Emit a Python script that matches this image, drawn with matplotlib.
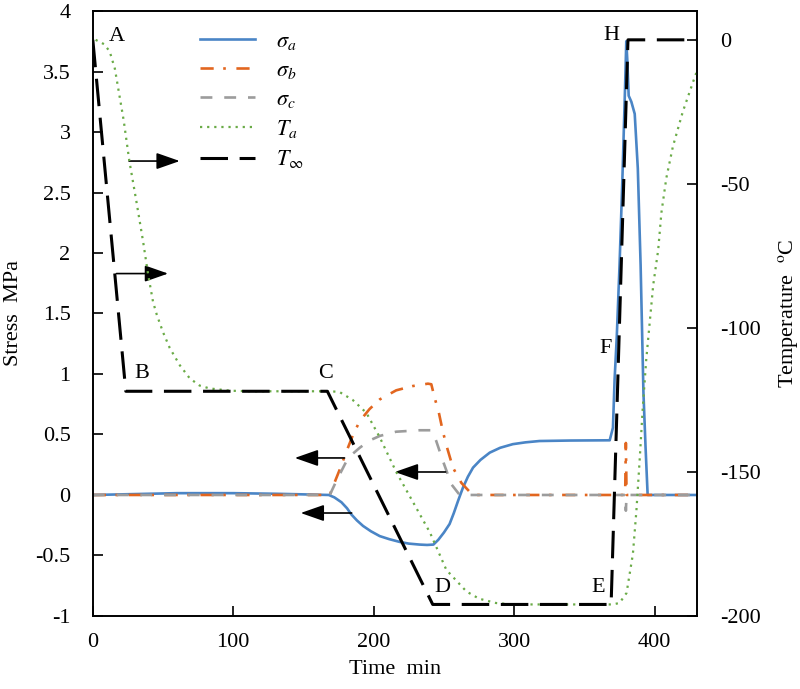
import matplotlib
matplotlib.use('Agg')
import matplotlib.pyplot as plt

plt.rcParams['font.family'] = ['Liberation Serif', 'DejaVu Serif']
plt.rcParams['mathtext.fontset'] = 'stix'
plt.rcParams['axes.unicode_minus'] = False

# stress at point a (MPa)
t_sa = [0, 20, 40, 60, 100, 130, 150, 168, 172, 177, 181, 184, 188, 192.4, 198, 204.3, 211,
        218.5, 225, 232.7, 238, 242.5, 246, 250, 254, 257, 260, 263.5, 267, 270.7, 276, 282.6,
        290, 299, 308, 318, 340, 368, 370.3, 371.5, 373, 375, 377, 379, 379.8, 380.5, 381.5,
        383.4, 385.8, 388, 390, 392, 393.5, 395, 430]
sa = [0, 0.005, 0.01, 0.015, 0.015, 0.01, 0.005, 0, -0.02, -0.06, -0.11, -0.16, -0.21, -0.256,
      -0.3, -0.34, -0.365, -0.388, -0.402, -0.41, -0.413, -0.41, -0.37, -0.31, -0.24, -0.15,
      -0.05, 0.06, 0.15, 0.226, 0.29, 0.35, 0.39, 0.42, 0.435, 0.446, 0.45, 0.452, 0.556, 0.96,
      1.3, 1.9, 2.6, 3.4, 3.75, 3.6, 3.3, 3.25, 3.15, 2.7, 1.9, 0.85, 0.4, 0, 0]

# stress at point b
t_sb = [0, 168.7, 172, 175.8, 180.6, 185, 190, 197, 204.3, 216, 227.6, 238.6, 241, 243.4, 246,
        249.3, 252.5, 256.4, 262.4, 268, 272, 379, 379.5, 380, 430]
sb = [0, 0, 0.1, 0.21, 0.36, 0.49, 0.61, 0.71, 0.79, 0.865, 0.9, 0.92, 0.915, 0.8, 0.7, 0.52,
      0.38, 0.226, 0.1, 0.03, 0, 0, 0.43, 0, 0]

# stress at point c
t_sc = [0, 168.7, 173.4, 180.6, 185, 190, 197, 204.3, 216, 232.7, 241, 242.5, 244.5, 249.3,
        255.3, 261.2, 379, 379.5, 380, 430]
sc = [0, 0, 0.116, 0.28, 0.34, 0.39, 0.45, 0.488, 0.523, 0.535, 0.535, 0.5, 0.446, 0.28,
      0.088, 0, 0, -0.13, 0, 0]

# temperature at point a (C)
t_ta = [2, 8, 12, 15.7, 19.2, 22, 26, 31, 35.8, 39.4, 42.9, 45.6, 50, 54.8, 62, 69, 76, 83,
        97.5, 112, 170, 175.8, 185, 194.8, 204.3, 216, 228, 240, 251.7, 266, 275, 287, 299,
        370, 375, 380, 384.5, 387, 389.3, 391.5, 394, 399, 402.5, 404.8, 408.3, 413, 420,
        428.5, 430]
ta = [0, -1.5, -4, -10, -20, -28, -42, -56, -70, -81.5, -91, -95.5, -101.5, -107, -113, -117.5,
      -120, -121, -121.8, -122, -122, -122.3, -125, -129.5, -138, -150, -160.5, -171, -184,
      -191.5, -194, -195.5, -196, -196, -195.5, -192, -178.5, -163.5, -146, -128, -111, -85,
      -73, -60, -48, -37, -25, -13, -11]

# ambient temperature (C)
t_tinf = [0, 23.5, 167, 242, 369, 381, 430]
tinf = [0, -122, -122, -196, -196, 0, 0]

# point labels (time, temperature)
pt_names = ['A', 'B', 'C', 'D', 'E', 'F', 'H']
pt_t = [17, 35, 166, 249, 360, 365, 369]
pt_T = [1, -116, -116, -190, -190, -107, 1.5]

# arrows (start time, tip time, stress level)
arrows = [(25.8, 61.9, 2.76), (16.9, 53.6, 1.83), (179.2, 143.8, 0.306),
          (184.3, 148.0, -0.149), (251.2, 215.0, 0.19)]

fig = plt.figure(figsize=(8, 6.89), dpi=100)
ax = fig.add_axes([0.116, 0.106, 0.755, 0.878])
ax2 = ax.twinx()

c_a = '#4a85c6'
c_b = '#e2661f'
c_c = '#9c9c9c'
c_t = '#6aab47'

l1, = ax.plot(t_sa, sa, color=c_a, lw=1.9, label=r'$\sigma_a$')
l2, = ax.plot(t_sb, sb, color=c_b, lw=1.9, dashes=(5, 3.6, 1, 4), label=r'$\sigma_b$')
l3, = ax.plot(t_sc, sc, color=c_c, lw=1.9, dashes=(4.5, 4.5), label=r'$\sigma_c$')
l4, = ax2.plot(t_ta, ta, color=c_t, lw=1.6, dashes=(1, 2.2), label=r'$T_a$')
l5, = ax2.plot(t_tinf, tinf, color='black', lw=2.2, dashes=(9, 3.8), label=r'$T_\infty$')

for name, x, y in zip(pt_names, pt_t, pt_T):
    ax2.text(x, y, name, fontsize=16, ha='center', va='center')

for x0, x1, y in arrows:
    ax.annotate('', xy=(x1, y), xytext=(x0, y),
                arrowprops=dict(arrowstyle='-|>,head_length=0.8,head_width=0.28',
                                mutation_scale=18, color='black', lw=1.2,
                                shrinkA=0, shrinkB=0))

ax.set_xlim(0, 430)
ax.set_ylim(-1, 4)
ax2.set_ylim(-200, 10)
ax.set_xticks([0, 100, 200, 300, 400])
ax.set_yticks([-1, -0.5, 0, 0.5, 1, 1.5, 2, 2.5, 3, 3.5, 4])
ax.set_yticklabels(['-1', '-0.5', '0', '0.5', '1', '1.5', '2', '2.5', '3', '3.5', '4'])
ax2.set_yticks([-200, -150, -100, -50, 0])

ax.tick_params(axis='both', direction='in', length=7, width=1.2, labelsize=16)
ax.tick_params(axis='y', pad=16)
ax.tick_params(axis='x', pad=12)
ax2.tick_params(axis='y', direction='in', length=7, width=1.2, labelsize=16, pad=17)
for a in (ax, ax2):
    for s in a.spines.values():
        s.set_linewidth(1.2)

ax.set_xlabel('Time  min', fontsize=16)
ax.set_ylabel('Stress  MPa', fontsize=16)
ax2.set_ylabel(r'Temperature  $^{\mathrm{o}}$C', fontsize=16)
ax.xaxis.set_label_coords(0.5, -0.072)
ax.yaxis.set_label_coords(-0.115, 0.5)
ax2.yaxis.set_label_coords(1.131, 0.5)

ax2.legend(handles=[l1, l2, l3, l4, l5], loc='upper left', bbox_to_anchor=(0.178, 0.967),
           frameon=False, fontsize=16, handlelength=2.45, handletextpad=0.95,
           labelspacing=0.38, borderpad=0, borderaxespad=0)

fig.savefig('out.png', dpi=100)
